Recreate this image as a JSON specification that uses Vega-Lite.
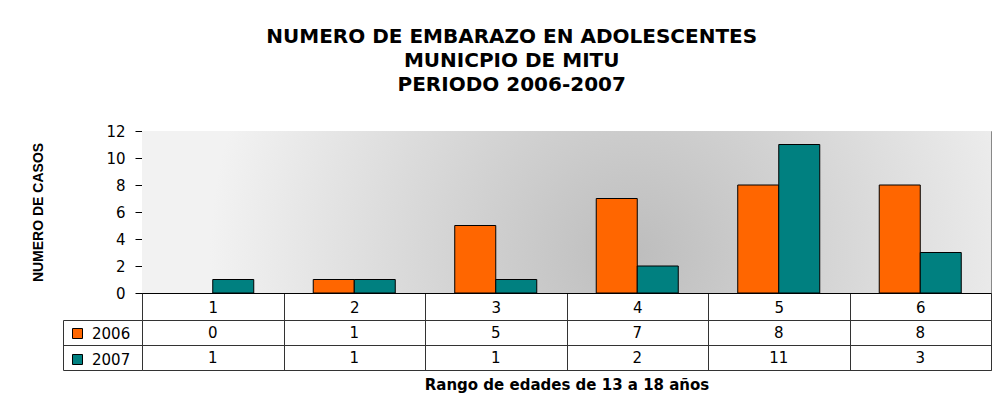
{
  "$schema": "https://vega.github.io/schema/vega-lite/v6.json",
  "background": "white",
  "padding": {"left": 31, "top": 26, "right": 2, "bottom": 10},
  "datasets": {
    "casos": [
      {"rango": "1", "anio": "2006", "casos": 0},
      {"rango": "2", "anio": "2006", "casos": 1},
      {"rango": "3", "anio": "2006", "casos": 5},
      {"rango": "4", "anio": "2006", "casos": 7},
      {"rango": "5", "anio": "2006", "casos": 8},
      {"rango": "6", "anio": "2006", "casos": 8},
      {"rango": "1", "anio": "2007", "casos": 1},
      {"rango": "2", "anio": "2007", "casos": 1},
      {"rango": "3", "anio": "2007", "casos": 1},
      {"rango": "4", "anio": "2007", "casos": 2},
      {"rango": "5", "anio": "2007", "casos": 11},
      {"rango": "6", "anio": "2007", "casos": 3}
    ],
    "fondo": [{}]
  },
  "title": {
    "text": ["NUMERO DE EMBARAZO EN ADOLESCENTES", "MUNICPIO DE MITU", "PERIODO  2006-2007"],
    "font": "DejaVu Sans",
    "fontSize": 20,
    "fontWeight": "bold",
    "lineHeight": 24,
    "color": "black",
    "anchor": "middle",
    "offset": 29
  },
  "bounds": "flush",
  "spacing": 27,
  "config": {
    "view": {"stroke": null},
    "axis": {
      "labelColor": "black",
      "tickColor": "#333333",
      "domainColor": "black",
      "titleColor": "black",
      "gridColor": "#333333",
      "gridOpacity": 1
    }
  },
  "vconcat": [
    {
      "width": 849,
      "height": 162,
      "view": {"stroke": "#888888"},
      "layer": [
        {
          "data": {"name": "fondo"},
          "mark": {
            "type": "rect",
            "fill": {
              "gradient": "radial",
              "x1": 0.58, "y1": 0.55, "x2": 0.58, "y2": 0.55,
              "r1": 0, "r2": 0.5,
              "stops": [
                {"offset": 0, "color": "#bdbdbd"},
                {"offset": 0.4, "color": "#d2d2d2"},
                {"offset": 1, "color": "#f2f2f2"}
              ]
            }
          },
          "encoding": {}
        },
        {
          "data": {"name": "casos"},
          "transform": [{"filter": "datum.casos > 0"}],
          "mark": {"type": "bar", "stroke": "black", "strokeWidth": 1},
          "encoding": {
            "x": {
              "field": "rango",
              "type": "nominal",
              "scale": {"domain": ["1", "2", "3", "4", "5", "6"], "paddingInner": 0, "paddingOuter": 0},
              "axis": {
                "title": null,
                "labelAngle": 0,
                "labelFont": "DejaVu Sans",
                "labelFontSize": 15,
                "tickBand": "extent",
                "tickSize": 27,
                "labelPadding": -20,
                "domainColor": "black"
              }
            },
            "xOffset": {
              "field": "anio",
              "type": "nominal",
              "scale": {"domain": ["2006", "2007"], "paddingInner": 0, "paddingOuter": 0.725}
            },
            "y": {
              "field": "casos",
              "type": "quantitative",
              "scale": {"domain": [0, 12]},
              "axis": {
                "values": [0, 2, 4, 6, 8, 10, 12],
                "grid": false,
                "tickSize": 7,
                "tickColor": "black",
                "labelPadding": 10,
                "labelFont": "DejaVu Sans",
                "labelFontSize": 15,
                "title": "NUMERO DE CASOS",
                "titleFont": "Liberation Sans",
                "titleFontSize": 14,
                "titleFontWeight": "bold",
                "titlePadding": 60
              }
            },
            "color": {
              "field": "anio",
              "type": "nominal",
              "scale": {"domain": ["2006", "2007"], "range": ["#FF6600", "#008080"]},
              "legend": {
                "orient": "none",
                "legendX": -76,
                "legendY": 191,
                "title": null,
                "symbolType": "square",
                "symbolSize": 100,
                "symbolStrokeColor": "black",
                "symbolStrokeWidth": 1,
                "symbolOpacity": 1,
                "labelFont": "DejaVu Sans",
                "labelFontSize": 15,
                "labelColor": "black",
                "labelOffset": 7,
                "rowPadding": 10,
                "padding": 4
              }
            }
          }
        }
      ]
    },
    {
      "width": 849,
      "height": 50,
      "data": {"name": "casos"},
      "resolve": {"axis": {"y": "independent"}},
      "layer": [
        {
          "mark": {"type": "text", "font": "DejaVu Sans", "fontSize": 15, "color": "black"},
          "encoding": {
            "x": {
              "field": "rango",
              "type": "nominal",
              "scale": {"domain": ["1", "2", "3", "4", "5", "6"], "paddingInner": 0, "paddingOuter": 0},
              "axis": {
                "orient": "bottom",
                "labels": false,
                "ticks": false,
                "grid": true,
                "tickBand": "extent",
                "domainColor": "#333333",
                "title": "Rango de edades de 13 a 18 años",
                "titleFont": "DejaVu Sans",
                "titleFontSize": 15,
                "titleFontWeight": "bold",
                "titlePadding": 7
              }
            },
            "y": {
              "field": "anio",
              "type": "nominal",
              "scale": {"domain": ["2006", "2007"], "paddingInner": 0, "paddingOuter": 0},
              "axis": {
                "orient": "left",
                "title": null,
                "labels": false,
                "domain": false,
                "grid": true,
                "tickBand": "extent",
                "ticks": true,
                "tickSize": 79
              }
            },
            "text": {"field": "casos", "type": "quantitative"}
          }
        },
        {
          "mark": {"type": "text", "text": ""},
          "encoding": {
            "y": {
              "field": "anio",
              "type": "nominal",
              "axis": {
                "orient": "left",
                "offset": 79,
                "title": null,
                "labels": false,
                "ticks": false,
                "grid": false,
                "domain": true,
                "domainColor": "#333333"
              }
            }
          }
        }
      ]
    }
  ]
}
